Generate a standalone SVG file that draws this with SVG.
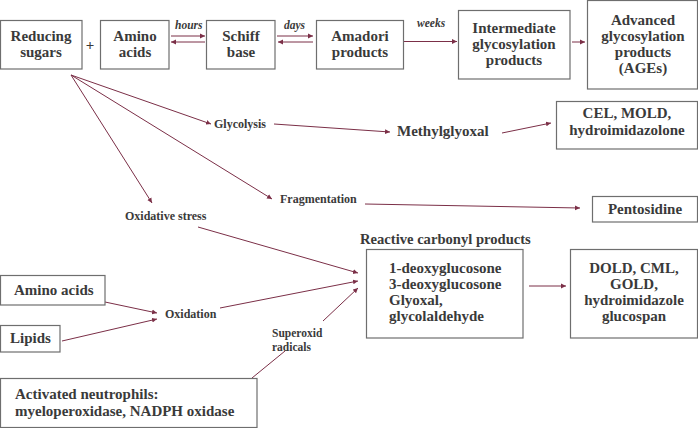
<svg xmlns="http://www.w3.org/2000/svg" width="698" height="428" viewBox="0 0 698 428">
<defs>
<style>
.box{fill:#fff;stroke:#6e6e6e;stroke-width:1.2}
.t{font-family:"Liberation Serif",serif;font-weight:bold;font-size:15px;fill:#3a3a3a}
.m{text-anchor:middle}
.s{font-family:"Liberation Serif",serif;font-weight:bold;font-size:12px;fill:#3a3a3a}
.i{font-family:"Liberation Serif",serif;font-weight:bold;font-style:italic;font-size:11.5px;fill:#3a3a3a}
.c{stroke:#7b2f47;stroke-width:1;fill:none}
.a{marker-end:url(#ah)}
</style>
<marker id="ah" markerWidth="6" markerHeight="6" refX="5" refY="3" orient="auto" markerUnits="userSpaceOnUse">
<path d="M0,0.6 L5,3 L0,5.4 Z" fill="#7b2f47"/>
</marker>
</defs>
<rect width="698" height="428" fill="#fff"/>

<g id="connectors">
<line class="c a" x1="171" y1="36" x2="205" y2="36"/>
<line class="c a" x1="205" y1="42" x2="171" y2="42"/>
<line class="c a" x1="277" y1="36" x2="313" y2="36"/>
<line class="c a" x1="313" y1="42" x2="278" y2="42"/>
<line class="c a" x1="404" y1="41.5" x2="457" y2="41.5"/>
<line class="c a" x1="572" y1="42" x2="585" y2="42"/>
<line class="c a" x1="71" y1="75" x2="211" y2="124"/>
<line class="c a" x1="71" y1="75" x2="272" y2="199"/>
<line class="c a" x1="71" y1="75" x2="152" y2="203"/>
<line class="c a" x1="274" y1="124" x2="390" y2="132"/>
<line class="c a" x1="502" y1="133" x2="551" y2="123"/>
<line class="c a" x1="365" y1="204" x2="580" y2="208"/>
<line class="c a" x1="198" y1="227" x2="358" y2="273"/>
<line class="c a" x1="105" y1="302" x2="157" y2="313"/>
<line class="c a" x1="62" y1="341" x2="157" y2="319"/>
<line class="c a" x1="220" y1="308" x2="358" y2="281"/>
<line class="c" x1="252" y1="378" x2="285" y2="351"/>
<line class="c a" x1="323" y1="321" x2="358" y2="288"/>
<line class="c a" x1="529" y1="286" x2="566" y2="286"/>
</g>

<g id="reducing-sugars">
<rect class="box" x="0.5" y="20.5" width="81.5" height="48.5"/>
<text class="t m" x="41" y="41">Reducing</text>
<text class="t m" x="41" y="57">sugars</text>
</g>
<g id="plus"><text class="t m" x="90" y="50">+</text></g>
<g id="amino-acids-top">
<rect class="box" x="100.5" y="20.5" width="68.5" height="48.5"/>
<text class="t m" x="135" y="41">Amino</text>
<text class="t m" x="135" y="57">acids</text>
</g>
<g id="label-hours"><text class="i" x="175" y="29">hours</text></g>
<g id="schiff-base">
<rect class="box" x="206.5" y="20.5" width="68.5" height="48.5"/>
<text class="t m" x="241" y="41">Schiff</text>
<text class="t m" x="241" y="57">base</text>
</g>
<g id="label-days"><text class="i" x="284" y="29">days</text></g>
<g id="amadori">
<rect class="box" x="316.5" y="20.5" width="87" height="48.5"/>
<text class="t m" x="360" y="41">Amadori</text>
<text class="t m" x="360" y="57">products</text>
</g>
<g id="label-weeks"><text class="i" x="417" y="27">weeks</text></g>
<g id="intermediate">
<rect class="box" x="458.5" y="10.5" width="111.5" height="68.5"/>
<text class="t m" x="514" y="33">Intermediate</text>
<text class="t m" x="514" y="49">glycosylation</text>
<text class="t m" x="514" y="65">products</text>
</g>
<g id="ages">
<rect class="box" x="587.5" y="0.5" width="110" height="88.5"/>
<text class="t m" x="643" y="25">Advanced</text>
<text class="t m" x="643" y="41">glycosylation</text>
<text class="t m" x="643" y="57">products</text>
<text class="t m" x="643" y="73">(AGEs)</text>
</g>
<g id="glycolysis"><text class="s" x="214" y="128">Glycolysis</text></g>
<g id="methylglyoxal"><text class="t" x="397" y="136">Methylglyoxal</text></g>
<g id="cel-mold">
<rect class="box" x="556.5" y="101.5" width="141" height="47.5"/>
<text class="t m" x="627" y="118">CEL, MOLD,</text>
<text class="t m" x="627" y="135">hydroimidazolone</text>
</g>
<g id="fragmentation"><text class="s" x="280" y="203">Fragmentation</text></g>
<g id="pentosidine">
<rect class="box" x="592.5" y="196.5" width="105" height="25.5"/>
<text class="t m" x="645" y="214">Pentosidine</text>
</g>
<g id="oxidative-stress"><text class="s" x="125" y="220">Oxidative stress</text></g>
<g id="reactive-carbonyl">
<text class="t" x="360" y="244" style="font-size:14.6px">Reactive carbonyl products</text>
<rect class="box" x="366.5" y="249.5" width="156.5" height="88.5"/>
<text class="t" x="389" y="273">1-deoxyglucosone</text>
<text class="t" x="389" y="289">3-deoxyglucosone</text>
<text class="t" x="389" y="305">Glyoxal,</text>
<text class="t" x="389" y="321">glycolaldehyde</text>
</g>
<g id="dold">
<rect class="box" x="570.5" y="249.5" width="127" height="88.5"/>
<text class="t m" x="634" y="273">DOLD, CML,</text>
<text class="t m" x="634" y="289">GOLD,</text>
<text class="t m" x="634" y="305">hydroimidazole</text>
<text class="t m" x="634" y="321">glucospan</text>
</g>
<g id="amino-acids">
<rect class="box" x="0.5" y="275.5" width="104.5" height="29.5"/>
<text class="t" x="14" y="295">Amino acids</text>
</g>
<g id="lipids">
<rect class="box" x="0.5" y="325.5" width="59.5" height="26.5"/>
<text class="t" x="10" y="343">Lipids</text>
</g>
<g id="oxidation"><text class="s" x="165" y="318">Oxidation</text></g>
<g id="superoxid">
<text class="s" x="272" y="337" style="font-size:11.5px">Superoxid</text>
<text class="s" x="272" y="351" style="font-size:11.5px">radicals</text>
</g>
<g id="neutrophils">
<rect class="box" x="0.5" y="378.5" width="256.5" height="49"/>
<text class="t" x="15" y="399">Activated neutrophils:</text>
<text class="t" x="15" y="416">myeloperoxidase, NADPH oxidase</text>
</g>
</svg>
